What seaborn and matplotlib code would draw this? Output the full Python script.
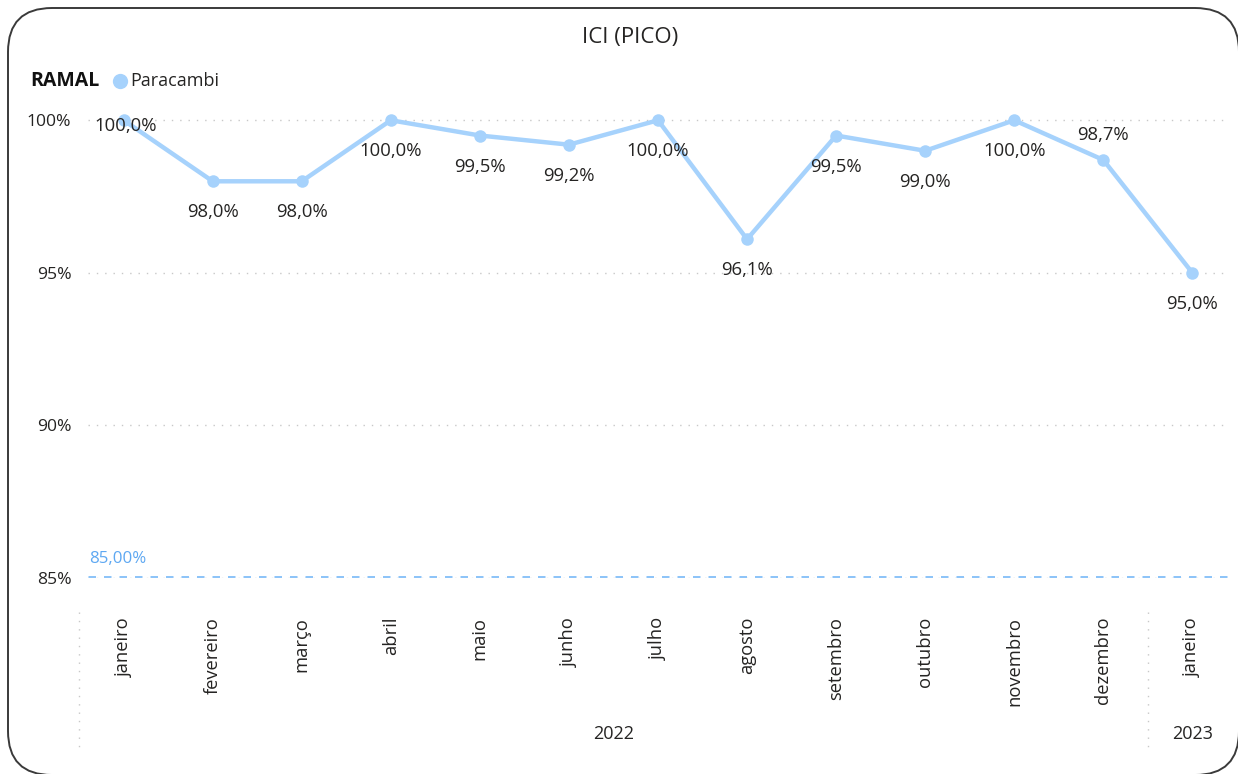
import matplotlib
matplotlib.use("Agg")
import matplotlib.pyplot as plt
from matplotlib.patches import FancyBboxPatch
from matplotlib.lines import Line2D
from matplotlib.transforms import IdentityTransform, blended_transform_factory
import seaborn as sns
import pandas as pd

# ---- data ----
months = ["janeiro", "fevereiro", "março", "abril", "maio", "junho", "julho",
          "agosto", "setembro", "outubro", "novembro", "dezembro", "janeiro"]
years = ["2022"] * 12 + ["2023"]
ici = [100.0, 98.0, 98.0, 100.0, 99.5, 99.2, 100.0, 96.1, 99.5, 99.0, 100.0, 98.7, 95.0]
ramal = "Paracambi"
meta = 85.0
y_ticks = [85, 90, 95, 100]

sns.set_theme(style="white")
plt.rcParams["font.family"] = ["Open Sans", "DejaVu Sans"]

TXT = "#252423"
LINE = "#A6D2FC"
META = "#8EC4F8"

df = pd.DataFrame({"idx": range(len(ici)), "ici": ici, "ramal": ramal})

W, H = 1238, 774
fig = plt.figure(figsize=(W / 100, H / 100), dpi=100)
ax = fig.add_axes([88 / W, 1 - 578 / H, (1228 - 88) / W, (578 - 105) / H])

# rounded card border (right and bottom edges sit at the canvas edge)
card = FancyBboxPatch((8, -1), 1231, 766 + 1,
                      boxstyle="round,pad=0,rounding_size=44",
                      transform=IdentityTransform(), fill=False,
                      edgecolor="#3a3a3a", linewidth=1.4)
fig.patches.append(card)

# horizontal gridlines
for t in y_ticks:
    ax.axhline(t, color="#c8c8c8", lw=1, ls=(0, (1, 5)), zorder=0)

# target line
ax.axhline(meta, color=META, lw=3.6, ls=(0, (1.5, 1.6)), zorder=1)
ax.text(0.001, meta + 0.35, f"{meta:.2f}%".replace(".", ","), color="#5EA8F2",
        fontsize=12.2, transform=blended_transform_factory(ax.transAxes, ax.transData),
        ha="left", va="bottom")

sns.lineplot(data=df, x="idx", y="ici", hue="ramal", palette=[LINE], ax=ax,
             lw=3.2, marker="o", markersize=9, markeredgewidth=0,
             legend=False, clip_on=False, zorder=3)

# value labels (below the point by default)
for i, v in enumerate(ici):
    if i == 0:
        off = -6
    elif i == 11:
        off = 25
    else:
        off = -31
    ax.annotate(f"{v:.1f}%".replace(".", ","), (i, v), xytext=(2 if i == 0 else 0, off),
                textcoords="offset pixels", ha="center", va="center",
                fontsize=13.3, color=TXT, zorder=4)

ax.set_xlim(-0.4, 12.4)
ax.set_ylim(85, 100.5)
ax.set_yticks(y_ticks)
ax.set_yticklabels([f"{t}%" for t in y_ticks], fontsize=12.6, color=TXT)
ax.set_xticks(range(len(months)))
ax.set_xticklabels(months, rotation=90, fontsize=13.2, color=TXT, va="top")
ax.tick_params(axis="both", length=0)
ax.tick_params(axis="x", pad=28)
ax.tick_params(axis="y", pad=12)
ax.set_xlabel("")
ax.set_ylabel("")
for s in ax.spines.values():
    s.set_visible(False)

# year grouping row
xt = blended_transform_factory(ax.transData, fig.transFigure)
for x in (-0.5, 11.5):
    ax.add_line(Line2D([x, x], [1 - 612 / H, 1 - 748 / H], transform=xt,
                       color="#c8c8c8", lw=1, ls=(0, (1, 5)), clip_on=False))
groups = {}
for i, y in enumerate(years):
    groups.setdefault(y, []).append(i)
for y, idxs in groups.items():
    ax.text((idxs[0] + idxs[-1]) / 2, 1 - 734 / H, y, transform=xt,
            ha="center", va="center", fontsize=13, color=TXT)

# title and legend header
fig.text(630 / W, 1 - 38 / H, "ICI (PICO)", ha="center", va="center",
         fontsize=16, color=TXT)
fig.text(30 / W, 1 - 81 / H, "RAMAL", ha="left", va="center",
         fontsize=14, fontweight="bold", color="#111111")
fig.add_artist(Line2D([120 / W], [1 - 81 / H], marker="o", markersize=11,
                      color=LINE, markeredgewidth=0, transform=fig.transFigure))
fig.text(130 / W, 1 - 81 / H, ramal, ha="left", va="center",
         fontsize=13, color=TXT)

fig.savefig("out.png", dpi=100)
